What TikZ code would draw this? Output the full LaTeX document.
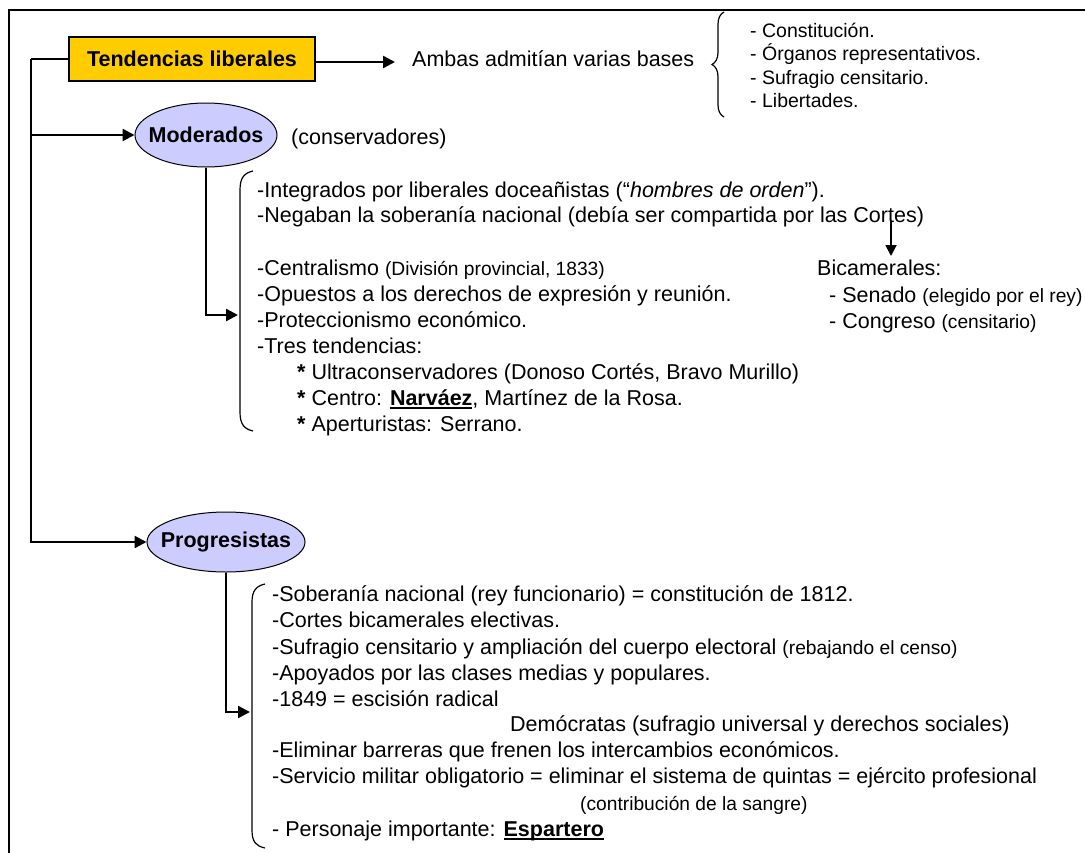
\documentclass[tikz,border=0pt]{standalone}
\usepackage{fontspec}
\setmainfont{Liberation Sans}
\usetikzlibrary{arrows.meta,shapes.geometric,decorations.pathreplacing}
\definecolor{boxgold}{HTML}{FFCC00}
\definecolor{lav}{HTML}{CCCCFF}
\newcommand{\ulbf}[1]{\setbox0\hbox{\bfseries #1}\rlap{\rule[-3.6pt]{\wd0}{1.8pt}}\box0}
\newcommand{\smf}{\fontsize{19.2}{22}\selectfont}
\begin{document}
\begin{tikzpicture}[x=1pt,y=-1pt,
  txt/.style={anchor=base west, inner sep=0pt, font=\fontsize{21.5}{26}\selectfont},
  lst/.style={anchor=base west, inner sep=0pt, font=\fontsize{19.5}{23}\selectfont},
  conn/.style={line width=2.4pt},
  arr/.style={line width=2.4pt, -{Triangle[length=12pt,width=12pt]}},
  bracket/.style={line width=1.2pt},
  oval/.style={ellipse, draw, line width=1pt, fill=lav, inner sep=0pt, font=\bfseries\fontsize{21.5}{24}\selectfont}]
\useasboundingbox (0,0) rectangle (1085,852);
\clip (0,0) rectangle (1085,852);
% frame
\draw[line width=1.5pt] (9,900) -- (9,10) -- (1100,10);

% main nodes
\node[draw, line width=1.2pt, fill=boxgold, minimum width=246pt, minimum height=44pt, inner sep=0pt,
      font=\bfseries\fontsize{21.5}{24}\selectfont] (tend) at (192,59) {Tendencias liberales};
\node[oval, minimum width=142pt, minimum height=64pt] (mod) at (206,135) {\makebox[0pt][c]{Moderados}};
\node[oval, minimum width=158pt, minimum height=60pt] (prog) at (226,542) {\makebox[0pt][c]{Progresistas}};

% trunk
\coordinate (trunk) at (31,59);
\draw[conn] (tend.west) -- (trunk);
\draw[arr] (trunk) |- (prog.west);
\draw[arr] (trunk |- mod.west) -- (mod.west);

% top right
\coordinate (aa) at (395,62);
\draw[arr] (tend.east |- aa) -- (aa);
\node[txt] (ambas) at (412,66) {Ambas admitían varias bases};
\draw[bracket, decorate, decoration={brace, amplitude=12pt}] (724,117) -- (724,12);
\node[lst] (b1) at (750,37.5) {- Constitución.};
\node[lst] (b2) at (750,60.5) {- Órganos representativos.};
\node[lst] (b3) at (750,84.5) {- Sufragio censitario.};
\node[lst] (b4) at (750,107.5) {- Libertades.};

\node[txt] (cons) at (291,144) {(conservadores)};

% Moderados block
\coordinate (mb) at (238,315);
\draw[conn] (mod.south) |- ([xshift=-10pt]mb);
\draw[arr] ([xshift=-12pt]mb) -- (mb);
\draw[bracket] (253,171) .. controls (244,173) and (240,178) .. (240,190) -- (240,412) .. controls (240,424) and (244,429) .. (253,431);
\node[txt] (m1) at (257,197) {-Integrados por liberales doceañistas (“\textit{hombres de orden}”).};
\node[txt] (m2) at (257,222) {-Negaban la soberanía nacional (debía ser compartida por las Cortes)};
\node[txt] (m3) at (257,275) {-Centralismo {\smf(División provincial, 1833)}};
\node[txt] (m4) at (257,301) {-Opuestos a los derechos de expresión y reunión.};
\node[txt] (m5) at (257,327) {-Proteccionismo económico.};
\node[txt] (m6) at (257,353) {-Tres tendencias:};
\node[txt] (m7) at (297,379) {\textbf{*} Ultraconservadores (Donoso Cortés, Bravo Murillo)};
\node[txt] (m8) at (297,405) {\textbf{*} Centro: \ulbf{Narváez}, Martínez de la Rosa.};
\node[txt] (m9) at (297,431) {\textbf{*} Aperturistas: Serrano.};

% Bicamerales
\coordinate (bs) at (891,221);
\coordinate (be) at (891,256);
\draw[line width=1.8pt, -{Triangle[length=11pt,width=11pt]}] (bs) -- (be);
\node[txt] (bic) at (817,275) {Bicamerales:};
\node[txt] (sen) at (829,302) {- Senado {\smf(elegido por el rey)}};
\node[txt] (con) at (829,328) {- Congreso {\smf(censitario)}};

% Progresistas block
\coordinate (pb) at (250,712);
\draw[conn] (prog.south) |- ([xshift=-10pt]pb);
\draw[arr] ([xshift=-12pt]pb) -- (pb);
\draw[bracket] (265,584) .. controls (256,586) and (252,591) .. (252,602) -- (252,830) .. controls (252,842) and (256,846) .. (265,848);
\node[txt] (p1) at (272,601) {-Soberanía nacional (rey funcionario) = constitución de 1812.};
\node[txt] (p2) at (272,627) {-Cortes bicamerales electivas.};
\node[txt] (p3) at (272,654) {-Sufragio censitario y ampliación del cuerpo electoral {\smf(rebajando el censo)}};
\node[txt] (p4) at (272,680) {-Apoyados por las clases medias y populares.};
\node[txt] (p5) at (272,706) {-1849 = escisión radical};
\node[txt] (p6) at (510,731) {Demócratas (sufragio universal y derechos sociales)};
\node[txt] (p7) at (272,757) {-Eliminar barreras que frenen los intercambios económicos.};
\node[txt] (p8) at (272,783) {-Servicio militar obligatorio = eliminar el sistema de quintas = ejército profesional};
\node[txt] (p9) at (580,810) {\smf(contribución de la sangre)};
\node[txt] (p10) at (272,836) {- Personaje importante: \ulbf{Espartero}};
\end{tikzpicture}
\end{document}
